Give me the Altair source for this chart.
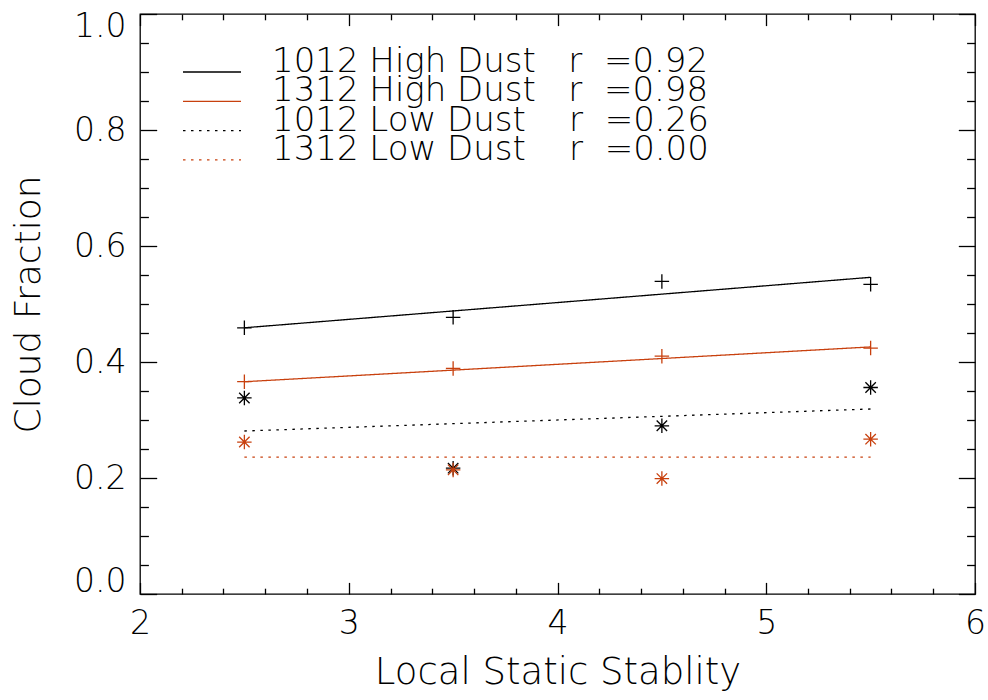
import altair as alt
import pandas as pd

# ---------------- data ----------------
x_vals = [2.5, 3.5, 4.5, 5.5]
high_1012 = [0.459, 0.477, 0.539, 0.534]
high_1312 = [0.366, 0.389, 0.410, 0.424]
low_1012 = [0.338, 0.217, 0.290, 0.356]
low_1312 = [0.262, 0.214, 0.199, 0.267]

fit_x = [2.5, 5.5]
fit_high_1012 = [0.459, 0.546]
fit_high_1312 = [0.366, 0.426]
fit_low_1012 = [0.281, 0.319]
fit_low_1312 = [0.236, 0.236]

NB = "\u00a0"
series_names = ["1012 High Dust", "1312 High Dust", "1012 Low Dust", "1312 Low Dust"]
gaps = [NB * 3, NB * 3, NB * 4, NB * 4]
r_values = ["0.92", "0.98", "0.26", "0.00"]
series_colors = ["#000000", "#c8400e", "#000000", "#c8400e"]
series_dashes = [[1, 0], [1, 0], [2.5, 5.5], [2.5, 5.5]]
series_markers = ["plus", "plus", "asterisk", "asterisk"]

x_major = [2, 3, 4, 5, 6]
x_minor = [2.2, 2.4, 2.6, 2.8, 3.2, 3.4, 3.6, 3.8, 4.2, 4.4, 4.6, 4.8, 5.2, 5.4, 5.6, 5.8]
y_major = [0.0, 0.2, 0.4, 0.6, 0.8, 1.0]
y_minor = [0.05, 0.1, 0.15, 0.25, 0.3, 0.35, 0.45, 0.5, 0.55, 0.65, 0.7, 0.75, 0.85, 0.9, 0.95]

# ---------------- tables ----------------
labels = [f"{n}{g}r{NB}{NB}={r}" for n, g, r in zip(series_names, gaps, r_values)]
point_series = [high_1012, high_1312, low_1012, low_1312]
fit_series = [fit_high_1012, fit_high_1312, fit_low_1012, fit_low_1312]

pt_rows = []
for lab, mk, ys in zip(labels, series_markers, point_series):
    for xv, yv in zip(x_vals, ys):
        pt_rows.append({"label": lab, "marker": mk, "x": xv, "y": yv})
pts_df = pd.DataFrame(pt_rows)

fit_rows = []
for lab, ys in zip(labels, fit_series):
    for xv, yv in zip(fit_x, ys):
        fit_rows.append({"label": lab, "x": xv, "y": yv})
fit_df = pd.DataFrame(fit_rows)

FONT = "DejaVu Sans"
FW = 200
W, H = 835, 580

xscale = alt.Scale(domain=[2, 6], nice=False, zero=False)
yscale = alt.Scale(domain=[0, 1], nice=False, zero=False)
color_scale = alt.Scale(domain=labels, range=series_colors)
dash_scale = alt.Scale(domain=labels, range=series_dashes)

PLUS = "M-1,0L1,0M0,-1L0,1"
ASTER = "M-1,0L1,0M0,-1L0,1M-0.72,-0.72L0.72,0.72M-0.72,0.72L0.72,-0.72"

legend = alt.Legend(
    title=None, orient="none", legendX=42, legendY=43.5,
    labelFont=FONT, labelFontSize=34, labelFontWeight=FW, labelColor="black",
    labelBaseline="alphabetic", labelOffset=30, labelLimit=900,
    symbolType="stroke", symbolSize=3364, symbolStrokeWidth=1.3,
    clipHeight=29, rowPadding=-12.7, padding=0,
)

lines = alt.Chart(fit_df).mark_line(strokeWidth=1.3).encode(
    x=alt.X("x:Q", scale=xscale, axis=alt.Axis(
        orient="bottom", values=x_major, format="d", tickSize=0, domain=False, grid=False,
        labelFont=FONT, labelFontSize=33, labelFontWeight=FW, labelColor="black",
        labelPadding=13, labelFlush=False,
        title="Local Static Stablity", titleFont=FONT, titleFontSize=37,
        titleFontWeight=FW, titleColor="black", titlePadding=14)),
    y=alt.Y("y:Q", scale=yscale, axis=alt.Axis(
        orient="left", values=y_major, format=".1f", tickSize=0, domain=False, grid=False,
        labelFont=FONT, labelFontSize=33, labelFontWeight=FW, labelColor="black",
        labelPadding=14, labelFlush=True, labelFlushOffset=4,
        title="Cloud Fraction", titleFont=FONT, titleFontSize=36,
        titleFontWeight=FW, titleColor="black", titlePadding=26)),
    color=alt.Color("label:N", scale=color_scale, legend=legend),
    strokeDash=alt.StrokeDash("label:N", scale=dash_scale, legend=legend),
)

points = alt.Chart(pts_df).mark_point(filled=False, size=210, strokeWidth=1.3, opacity=1).encode(
    x=alt.X("x:Q", scale=xscale, axis=None),
    y=alt.Y("y:Q", scale=yscale, axis=None),
    color=alt.Color("label:N", scale=color_scale, legend=None),
    shape=alt.Shape("marker:N", scale=alt.Scale(domain=["plus", "asterisk"], range=[PLUS, ASTER]), legend=None),
)


def tick_layer(xorient, xoff, xvals, xlen, yorient, yoff, yvals, ylen):
    common = dict(labels=False, domain=False, grid=False, tickColor="black", tickWidth=1.3)
    return alt.Chart(pts_df).mark_point(opacity=0).encode(
        x=alt.X("x:Q", scale=xscale, title=None, axis=alt.Axis(
            orient=xorient, offset=xoff, values=xvals, tickSize=xlen, **common)),
        y=alt.Y("y:Q", scale=yscale, title=None, axis=alt.Axis(
            orient=yorient, offset=yoff, values=yvals, tickSize=ylen, **common)),
    )


t1 = tick_layer("top", -H, x_major, 11.6, "right", -W, y_major, 16.7)
t2 = tick_layer("top", -H, x_minor, 5.8, "right", -W, y_minor, 8.4)
t3 = tick_layer("bottom", -H, x_major, 11.6, "left", -W, y_major, 16.7)
t4 = tick_layer("bottom", -H, x_minor, 5.8, "left", -W, y_minor, 8.4)

chart = alt.layer(lines, points, t1, t2, t3, t4).resolve_axis(
    x="independent", y="independent"
).properties(
    width=W, height=H,
    autosize=alt.AutoSizeParams(type="none"),
    padding={"left": 140, "top": 14, "right": 13, "bottom": 106},
    background="white",
).configure_view(stroke="black", strokeWidth=1.3)

chart.save("out.html", embed_options={"renderer": "svg", "actions": False})
